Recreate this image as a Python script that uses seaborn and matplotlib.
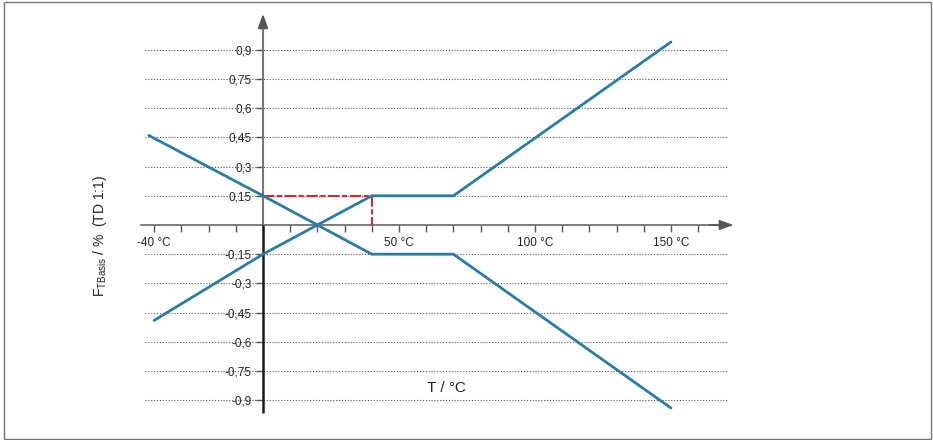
import numpy as np
import pandas as pd
import matplotlib
matplotlib.use('Agg')
import matplotlib.pyplot as plt
import seaborn as sns
from matplotlib.patches import Rectangle

# ---- data ----
temp_a = [-42, 0, 40, 70, 150]
f_a = [0.46, 0.15, -0.15, -0.15, -0.94]
temp_b = [-40, 0, 40, 70, 150]
f_b = [-0.49, -0.15, 0.15, 0.15, 0.94]
ref_temp = [0, 40, 40]
ref_f = [0.15, 0.15, 0.0]
ytick_vals = [0.9, 0.75, 0.6, 0.45, 0.3, 0.15, -0.15, -0.3, -0.45, -0.6, -0.75, -0.9]
ytick_labels = ["0,9", "0,75", "0,6", "0,45", "0,3", "0,15",
                "-0,15", "-0,3", "-0,45", "-0,6", "-0,75", "-0,9"]
xtick_vals = [-40, 50, 100, 150]
xtick_labels = ["-40 °C", "50 °C", "100 °C", "150 °C"]
xminor_vals = list(range(-40, 161, 10))

sns.set_theme(style='white')
plt.rcParams['font.family'] = ['Liberation Sans', 'DejaVu Sans']
plt.rcParams['mathtext.fontset'] = 'custom'
plt.rcParams['mathtext.rm'] = 'Liberation Sans'
plt.rcParams['mathtext.it'] = 'Liberation Sans:italic'
plt.rcParams['mathtext.bf'] = 'Liberation Sans:bold'

blue = '#2a7ca3'
red = '#d42a2f'
grey = '#666666'

fig = plt.figure(figsize=(9.33, 4.4), dpi=100)
ax = fig.add_axes([140.6 / 933, (440 - 415.8) / 440, (739 - 140.6) / 933, (415.8 - 10.8) / 440])

df = pd.concat([
    pd.DataFrame({'T': temp_a, 'F': f_a, 'curve': 'A'}),
    pd.DataFrame({'T': temp_b, 'F': f_b, 'curve': 'B'}),
], ignore_index=True)

# grid lines
ax.hlines(ytick_vals, -43.4, 171, colors='#555555', linestyles=(0, (1, 1.6)), lw=0.8, zorder=1)

sns.lineplot(data=df, x='T', y='F', units='curve', estimator=None, sort=False,
             color=blue, lw=2.0, ax=ax, zorder=4)
ax.plot(ref_temp, ref_f, color=red, lw=1.5, linestyle=(0, (5.5, 1.2, 2.5, 1.2)), zorder=3)

ax.set_xlim(-45, 175)
ax.set_ylim(-0.98, 1.1)
ax.set_xlabel('')
ax.set_ylabel('')

# axes through origin
for s in ['top', 'right']:
    ax.spines[s].set_visible(False)
ax.spines['left'].set_position(('data', 0))
ax.spines['bottom'].set_position(('data', 0))
ax.spines['bottom'].set_bounds(-45, 168)
ax.spines['bottom'].set_color(grey)
ax.spines['bottom'].set_linewidth(1.2)
ax.spines['left'].set_bounds(0, 1.05)
ax.spines['left'].set_color('#777777')
ax.spines['left'].set_linewidth(1.5)
ax.plot([0, 0], [-0.965, 0], color='#1a1a1a', lw=1.8, zorder=2.6, solid_capstyle='butt')
ax.annotate('', xy=(173, 0), xytext=(164, 0),
            arrowprops=dict(arrowstyle='-|>,head_length=0.7,head_width=0.25', color='#555555',
                            lw=1.2, shrinkA=0, shrinkB=0))
ax.annotate('', xy=(0, 1.085), xytext=(0, 1.03),
            arrowprops=dict(arrowstyle='-|>,head_length=0.7,head_width=0.25', color='#555555',
                            lw=1.4, shrinkA=0, shrinkB=0))

ax.set_yticks(ytick_vals)
ax.set_yticklabels(ytick_labels)
ax.tick_params(axis='y', direction='out', length=5, width=1, color='#555555', pad=3,
               labelsize=8.5, labelcolor='#222222', left=True)
for lbl in ax.get_yticklabels():
    lbl.set_bbox(dict(facecolor='white', edgecolor='none', pad=1.5))

ax.set_xticks(xtick_vals)
ax.set_xticklabels(xtick_labels)
ax.set_xticks(xminor_vals, minor=True)
ax.tick_params(axis='x', which='both', direction='out', length=5, width=1, color='#555555',
               pad=4, labelsize=8.5, labelcolor='#222222', bottom=True)

ax.text(67.5, -0.835, 'T / °C', ha='center', va='center', fontsize=11, color='#222222')
fig.text(100 / 933, 1 - 236 / 440, r'F$_{\mathrm{TBasis}}$ / %  (TD 1:1)', rotation=90,
         ha='center', va='center', fontsize=10, color='#222222')

fig.patches.append(Rectangle((3.5 / 933, 1.5 / 440), (931 - 3.5) / 933, (438 - 1.5) / 440,
                             transform=fig.transFigure, fill=False, edgecolor='#777777', lw=1))

fig.savefig('out.png', dpi=100)
